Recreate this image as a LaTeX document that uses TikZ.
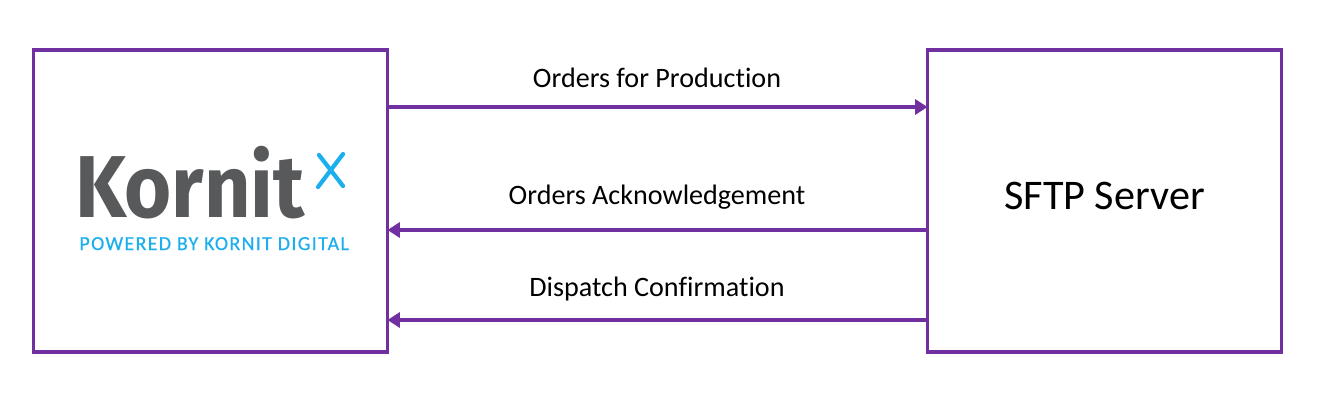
\documentclass[tikz,border=0pt]{standalone}
\usepackage{fontspec}
\setmainfont[Ligatures=CommonOff]{Carlito}
\newfontfamily\logofont{Fira Sans}
\newfontfamily\taglinefont[LetterSpace=7,FakeBold=0.5]{Carlito}
\definecolor{P}{RGB}{112,48,160}
\definecolor{G}{RGB}{88,89,91}
\definecolor{B}{RGB}{28,175,238}
\usetikzlibrary{arrows.meta}
\usetikzlibrary{positioning}
\tikzstyle{base}=[inner sep=0pt, outer sep=0pt]
\tikzstyle{panel}=[draw=P, line width=2pt, fill=white, minimum width=7.08cm, minimum height=6.04cm]
\tikzstyle{flow}=[draw=P, line width=1.8pt, -{Triangle[length=7pt,width=8.5pt]}]
\tikzstyle{caption}=[black, font=\fontsize{16}{18}\selectfont]
\tikzstyle{cross}=[draw=B, line width=2.4pt, line cap=round]

\begin{document}
\begin{tikzpicture}[base]
    \path [use as bounding box] (0,0) rectangle (26.42,8.04);
    \node [panel] (kornit) at (4.21,4.02) {};
    \node [panel] (sftp) at (22.09,4.02) {};
    \node [black, font=\fontsize{24}{28}\selectfont] (server) at (22.09,4.12) {SFTP Server};
    % logo
    \node [G, anchor=base west, transform shape, xscale=0.92, font=\fontsize{50}{52}\logofont\bfseries] (brand) at (1.50,3.70) {Kornit};
    \node [B, anchor=base west, font=\fontsize{11.3}{13}\taglinefont] (tagline) at (1.59,3.04) {POWERED BY KORNIT DIGITAL};
    \coordinate (xa) at (6.38,4.94);
    \coordinate (xb) at (6.86,4.32);
    \coordinate (xc) at (6.86,4.96);
    \coordinate (xd) at (6.36,4.30);
    \draw [cross] (xa) -- (xb);
    \draw [cross] (xc) -- (xd);
    % flows
    \coordinate (prod) at (13.14,5.90);
    \coordinate (ack) at (13.14,3.44);
    \coordinate (disp) at (13.14,1.64);
    \draw [flow] (kornit.east |- prod) -- (sftp.west |- prod);
    \draw [flow] (sftp.west |- ack) -- (kornit.east |- ack);
    \draw [flow] (sftp.west |- disp) -- (kornit.east |- disp);
    \node [caption] (prodlabel) at (13.14,6.48) {Orders for Production};
    \node [caption] (acklabel) at (13.14,4.10) {Orders Acknowledgement};
    \node [caption] (displabel) at (13.14,2.27) {Dispatch Confirmation};
\end{tikzpicture}
\end{document}
